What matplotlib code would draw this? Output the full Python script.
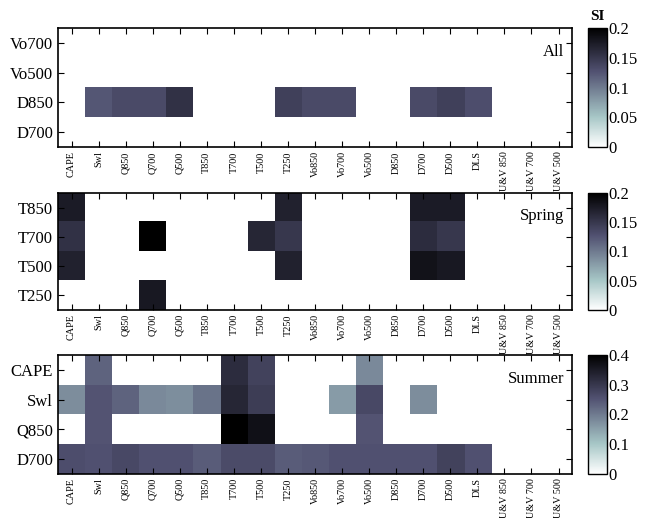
import numpy as np
import matplotlib
matplotlib.use('Agg')
import matplotlib.pyplot as plt

plt.rcParams['font.family'] = ['Liberation Serif', 'DejaVu Serif']

# columnas (predictores)
cols = ["CAPE", "Swl", "Q850", "Q700", "Q500", "T850", "T700", "T500", "T250",
        "Vo850", "Vo700", "Vo500", "D850", "D700", "D500", "DLS",
        "U&V 850", "U&V 700", "U&V 500"]

# filas de cada panel
rows_all = ["Vo700", "Vo500", "D850", "D700"]
rows_spring = ["T850", "T700", "T500", "T250"]
rows_summer = ["CAPE", "Swl", "Q850", "D700"]

# valores SI (0 = vacio)
si_all = [
    [0, 0, 0, 0, 0, 0, 0, 0, 0, 0, 0, 0, 0, 0, 0, 0, 0, 0, 0],
    [0, 0, 0, 0, 0, 0, 0, 0, 0, 0, 0, 0, 0, 0, 0, 0, 0, 0, 0],
    [0, 0.124, 0.133, 0.133, 0.155, 0, 0, 0, 0.142, 0.133, 0.133, 0, 0, 0.133, 0.142, 0.130, 0, 0, 0],
    [0, 0, 0, 0, 0, 0, 0, 0, 0, 0, 0, 0, 0, 0, 0, 0, 0, 0, 0],
]
si_spring = [
    [0.175, 0, 0, 0, 0, 0, 0, 0, 0.170, 0, 0, 0, 0, 0.175, 0.175, 0, 0, 0, 0],
    [0.155, 0, 0, 0.200, 0, 0, 0, 0.165, 0.150, 0, 0, 0, 0, 0.160, 0.150, 0, 0, 0, 0],
    [0.170, 0, 0, 0, 0, 0, 0, 0, 0.170, 0, 0, 0, 0, 0.183, 0.178, 0, 0, 0, 0],
    [0, 0, 0, 0.178, 0, 0, 0, 0, 0, 0, 0, 0, 0, 0, 0, 0, 0, 0, 0],
]
si_summer = [
    [0, 0.230, 0, 0, 0, 0, 0.320, 0.280, 0, 0, 0, 0.180, 0, 0, 0, 0, 0, 0, 0],
    [0.176, 0.250, 0.230, 0.180, 0.175, 0.210, 0.330, 0.290, 0, 0, 0.157, 0.270, 0, 0.176, 0, 0, 0, 0, 0],
    [0, 0.250, 0, 0, 0, 0, 0.400, 0.370, 0, 0, 0, 0.250, 0, 0, 0, 0, 0, 0, 0],
    [0.260, 0.255, 0.270, 0.255, 0.255, 0.240, 0.265, 0.265, 0.240, 0.245, 0.255, 0.255, 0.255, 0.255, 0.280, 0.255, 0, 0, 0],
]

paneles = [
    (rows_all, si_all, "All", 0.2, [0, 0.05, 0.1, 0.15, 0.2]),
    (rows_spring, si_spring, "Spring", 0.2, [0, 0.05, 0.1, 0.15, 0.2]),
    (rows_summer, si_summer, "Summer", 0.4, [0, 0.1, 0.2, 0.3, 0.4]),
]

fig = plt.figure(figsize=(6.49, 5.18), dpi=100)

ys = [(0.716, 0.2297), (0.4015, 0.226), (0.085, 0.2297)]

for k, (filas, datos, nombre, vmax, cticks) in enumerate(paneles):
    y0, h = ys[k]
    ax = fig.add_axes([0.0894, y0, 0.792, h])
    cax = fig.add_axes([0.906, y0, 0.029, h])
    im = ax.imshow(np.array(datos), cmap="bone_r", vmin=0, vmax=vmax,
                   aspect="auto", interpolation="nearest")
    ax.set_xticks(range(len(cols)))
    ax.set_xticklabels(cols, rotation=90, fontsize=7.3)
    ax.set_yticks(range(len(filas)))
    ax.set_yticklabels(filas, fontsize=12)
    ax.tick_params(direction="in", top=True, right=True, length=4, width=0.8)
    ax.tick_params(axis="x", pad=3)
    ax.text(0.985, 0.80, nombre, transform=ax.transAxes, ha="right",
            va="center", fontsize=12)
    for s in ax.spines.values():
        s.set_linewidth(1.2)
    cb = fig.colorbar(im, cax=cax, ticks=cticks)
    cb.ax.set_yticklabels(["%g" % t for t in cticks], fontsize=12)
    cb.ax.tick_params(length=0, pad=1)
    cb.outline.set_linewidth(1.0)
    if k == 0:
        cax.set_title("SI", fontsize=11, fontweight="bold", pad=6)

plt.savefig("out.png", dpi=100)
plt.close()
